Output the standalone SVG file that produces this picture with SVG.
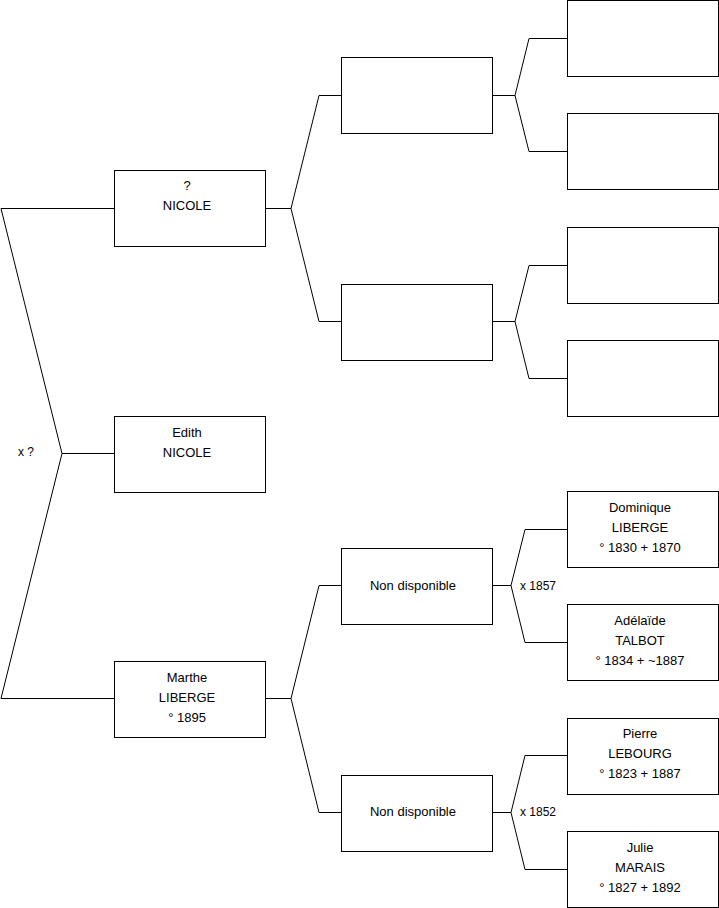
<svg xmlns="http://www.w3.org/2000/svg" width="719" height="908" viewBox="0 0 719 908">
<style>
.box{fill:#fff;stroke:#000;stroke-width:1}
.ln{fill:none;stroke:#000;stroke-width:1}
text{font-family:"Liberation Sans",Arial,sans-serif;font-size:12px;fill:#000}
.c{text-anchor:middle;font-size:13px}
</style>
<rect width="719" height="908" fill="#fff"/>
<g id="connectors">
<polyline class="ln" points="114,208.5 1,208.5 62,453.5 1,698.5 114,698.5"/>
<line class="ln" x1="62" y1="453.5" x2="114" y2="453.5"/>
<polyline class="ln" points="341,95.5 319,95.5 291,208.5 319,321.5 341,321.5"/>
<line class="ln" x1="265" y1="208.5" x2="291" y2="208.5"/>
<polyline class="ln" points="341,585.5 319,585.5 291,698.5 319,812.5 341,812.5"/>
<line class="ln" x1="265" y1="698.5" x2="291" y2="698.5"/>
<polyline class="ln" points="567,38.5 529,38.5 515,95.5 529,151.5 567,151.5"/>
<line class="ln" x1="492" y1="95.5" x2="515" y2="95.5"/>
<polyline class="ln" points="567,265.5 529,265.5 515,321.5 529,378.5 567,378.5"/>
<line class="ln" x1="492" y1="321.5" x2="515" y2="321.5"/>
<polyline class="ln" points="567,529.5 525,529.5 511,585.5 525,642.5 567,642.5"/>
<line class="ln" x1="492" y1="585.5" x2="511" y2="585.5"/>
<polyline class="ln" points="567,755.5 525,755.5 511,812.5 525,869.5 567,869.5"/>
<line class="ln" x1="492" y1="812.5" x2="511" y2="812.5"/>
<text x="18" y="456">x ?</text>
<text x="520" y="590">x 1857</text>
<text x="520" y="816">x 1852</text>
</g>
<g id="n1"><rect class="box" x="114.5" y="170.5" width="151" height="76"/><text class="c" x="187" y="190">?</text><text class="c" x="187" y="210">NICOLE</text></g>
<g id="n2"><rect class="box" x="114.5" y="416.5" width="151" height="76"/><text class="c" x="187" y="437">Edith</text><text class="c" x="187" y="457">NICOLE</text></g>
<g id="n3"><rect class="box" x="114.5" y="661.5" width="151" height="76"/><text class="c" x="187" y="682">Marthe</text><text class="c" x="187" y="702">LIBERGE</text><text class="c" x="187" y="722">° 1895</text></g>
<g id="n4"><rect class="box" x="341.5" y="57.5" width="151" height="76"/></g>
<g id="n5"><rect class="box" x="341.5" y="284.5" width="151" height="76"/></g>
<g id="n6"><rect class="box" x="341.5" y="548.5" width="151" height="76"/><text class="c" x="413" y="590">Non disponible</text></g>
<g id="n7"><rect class="box" x="341.5" y="775.5" width="151" height="76"/><text class="c" x="413" y="816">Non disponible</text></g>
<g id="n8"><rect class="box" x="567.5" y="0.5" width="151" height="76"/></g>
<g id="n9"><rect class="box" x="567.5" y="113.5" width="151" height="76"/></g>
<g id="n10"><rect class="box" x="567.5" y="227.5" width="151" height="76"/></g>
<g id="n11"><rect class="box" x="567.5" y="340.5" width="151" height="76"/></g>
<g id="n12"><rect class="box" x="567.5" y="491.5" width="151" height="76"/><text class="c" x="640" y="512">Dominique</text><text class="c" x="640" y="532">LIBERGE</text><text class="c" x="640" y="552">° 1830 + 1870</text></g>
<g id="n13"><rect class="box" x="567.5" y="604.5" width="151" height="76"/><text class="c" x="640" y="625">Adélaïde</text><text class="c" x="640" y="645">TALBOT</text><text class="c" x="640" y="665">° 1834 + ~1887</text></g>
<g id="n14"><rect class="box" x="567.5" y="718.5" width="151" height="76"/><text class="c" x="640" y="738">Pierre</text><text class="c" x="640" y="758">LEBOURG</text><text class="c" x="640" y="778">° 1823 + 1887</text></g>
<g id="n15"><rect class="box" x="567.5" y="831.5" width="151" height="76"/><text class="c" x="640" y="852">Julie</text><text class="c" x="640" y="872">MARAIS</text><text class="c" x="640" y="892">° 1827 + 1892</text></g>
</svg>
